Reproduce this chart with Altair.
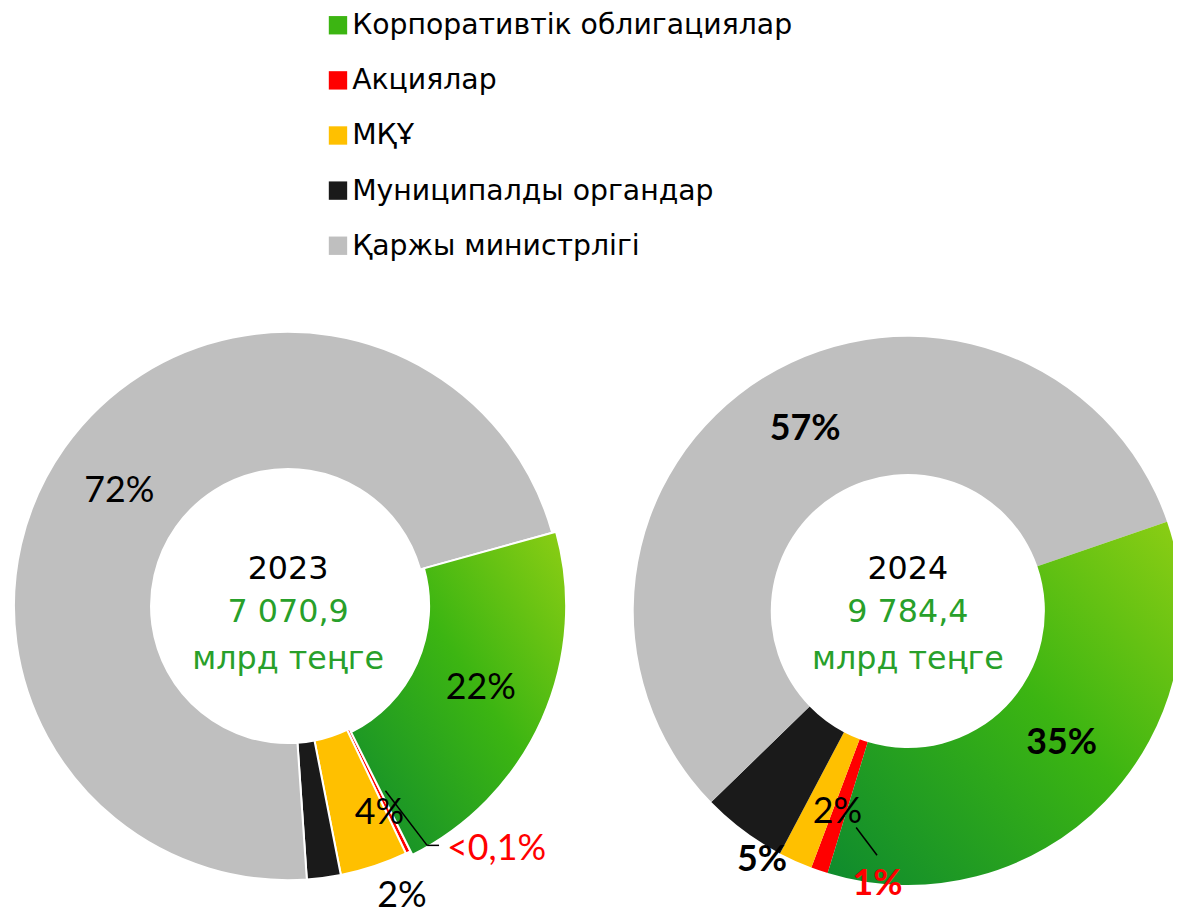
import math
import altair as alt
import pandas as pd

# ---------------- data ----------------
categories = ["Корпоративтік облигациялар", "Акциялар", "МҚҰ",
              "Муниципалды органдар", "Қаржы министрлігі"]
colors = ["#3CB512", "#FF0000", "#FFC000", "#1A1A1A", "#BFBFBF"]
years = ["2023", "2024"]
totals = ["7 070,9", "9 784,4"]
unit = "млрд теңге"
share_2023 = [22.0, 0.3, 4.0, 2.0, 72.0]
share_2024 = [35.0, 1.0, 2.0, 5.0, 57.0]
labels_2023 = ["22%", "<0,1%", "4%", "2%", "72%"]
labels_2024 = ["35%", "1%", "2%", "5%", "57%"]

# ---------------- layout / style ----------------
W, H = 1173, 908
R_OUT, R_IN = 276, 138
GRADIENT = {
    "gradient": "linear", "x1": 0, "y1": 1, "x2": 1, "y2": 0,
    "stops": [
        {"offset": 0.0, "color": "#0E8A2E"},
        {"offset": 0.55, "color": "#3CB512"},
        {"offset": 1.0, "color": "#8DCE14"},
    ],
}
LEGEND = alt.Legend(
    orient="none", legendX=318, legendY=0, title=None, direction="vertical",
    symbolType="square", symbolSize=342, symbolStrokeWidth=0,
    labelFont="DejaVu Sans", labelFontSize=28.5, labelColor="black",
    labelOffset=0, rowPadding=26.5, padding=0, labelLimit=900,
)
color_scale = alt.Scale(domain=categories, range=colors)
CENTER_FONT = "DejaVu Sans"
GREEN_TXT = "#28A02A"


def donut(shares, labels, year, total, cx, cy, start_deg, stroke_w, explode, specs):
    df = pd.DataFrame({"cat": categories, "ord": list(range(len(categories))),
                       "value": shares, "label": labels})
    a0 = math.radians(start_deg)
    tscale = alt.Scale(domain=[0, sum(shares)], range=[a0, a0 + 2 * math.pi])
    base = (
        alt.Chart(df)
        .transform_window(cum_end="sum(value)", sort=[alt.SortField("ord")],
                          frame=[None, 0])
        .transform_calculate(cum_start="datum.cum_end - datum.value",
                             mid="(datum.cum_start + datum.cum_end) / 2")
    )
    enc = dict(
        theta=alt.Theta("cum_start:Q", scale=tscale, stack=None),
        theta2="cum_end:Q",
        fill=alt.condition(alt.datum.ord == 0, alt.value(GRADIENT),
                           alt.Fill("cat:N", scale=color_scale, legend=LEGEND)),
        x=alt.value(cx), y=alt.value(cy),
    )
    layers = []
    for test, extra in [(alt.datum.ord != 0, 0), (alt.datum.ord == 0, explode)]:
        kw = dict(innerRadius=R_IN + extra, outerRadius=R_OUT + extra, clip=True)
        if stroke_w:
            kw.update(stroke="white", strokeWidth=stroke_w)
        layers.append(base.transform_filter(test).mark_arc(**kw).encode(**enc))
    for i, (r, dx, dy, col, wt, al) in enumerate(specs):
        t = base.transform_filter(alt.datum.ord == i).mark_text(
            radius=r, dx=dx, dy=dy, font="Lato", fontSize=36, fontWeight=wt,
            color=col, align=al, baseline="middle",
        ).encode(
            theta=alt.Theta("mid:Q", scale=tscale, stack=None),
            text="label:N", x=alt.value(cx), y=alt.value(cy),
        )
        layers.append(t)
    cdf = pd.DataFrame({"year": [year], "total": [total], "unit": [unit]})
    cbase = alt.Chart(cdf)
    shift = 599 - cy
    for field, col, off in [("year", "black", -27), ("total", GREEN_TXT, 16),
                            ("unit", GREEN_TXT, 63)]:
        layers.append(cbase.mark_text(font=CENTER_FONT, fontSize=32, color=col,
                                      baseline="alphabetic", dy=off + shift)
                      .encode(text=f"{field}:N", x=alt.value(cx), y=alt.value(cy)))
    return layers


spec_2023 = [
    (207, 5, -2, "black", "normal", "center"),
    (290, 33, -16, "#FF0000", "normal", "left"),
    (226, 21, -6, "black", "normal", "center"),
    (295, 76, 0, "black", "normal", "center"),
    (207, -1, 4, "black", "normal", "center"),
]
spec_2024 = [
    (207, 6, -11, "black", "bold", "center"),
    (290, 63, 0, "#FF0000", "bold", "center"),
    (217, 18, 5, "black", "normal", "center"),
    (290, 27, 19, "black", "bold", "center"),
    (207, 5, -7, "black", "bold", "center"),
]

layers = []
layers += donut(share_2023, labels_2023, years[0], totals[0], 282, 599, 74.5, 2, 4, spec_2023)
layers += donut(share_2024, labels_2024, years[1], totals[1], 906, 604, 71.0, 0, 0, spec_2024)

dummy = alt.Chart(pd.DataFrame({"k": [0]}))
for (x1, y1, x2, y2) in [(380, 785, 422, 840), (422, 840, 434, 840), (854, 822, 875, 850)]:
    layers.append(dummy.mark_rule(color="black", strokeWidth=1.5).encode(
        x=alt.value(x1), y=alt.value(y1), x2=alt.value(x2), y2=alt.value(y2)))

chart = (
    alt.layer(*layers)
    .resolve_scale(theta="independent")
    .properties(width=W, height=H, autosize="none", padding=0)
    .configure_view(stroke=None)
)
chart.save("out.html", embed_options={"renderer": "svg", "actions": False})
